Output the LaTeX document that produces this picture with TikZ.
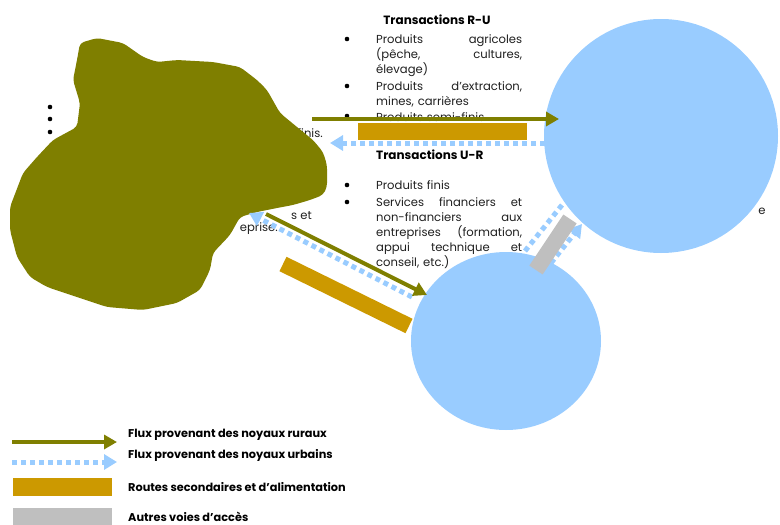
\documentclass[tikz,border=0pt]{standalone}
\usepackage{fontspec}
\setmainfont{Poppins}
\usetikzlibrary{arrows.meta,shapes.geometric}
\setlength{\parindent}{0pt}
\definecolor{colRural}{HTML}{7F7F00}
\definecolor{colUrbain}{HTML}{99CCFF}
\definecolor{colRoute}{HTML}{CC9900}
\definecolor{colVoie}{HTML}{BFBFBF}
\definecolor{colTexte}{HTML}{1F1F1F}
\newcommand{\ligne}[1]{\leavevmode\hbox to 146pt{\spaceskip=0.28em plus 1fil\relax #1}}
\tikzset{
  fluxrural/.style={draw=colRural,line width=4pt,-{Triangle[length=13pt,width=14pt]}},
  fluxurbain/.style={draw=colUrbain,line width=5pt,dash pattern=on 5pt off 4pt,-{Triangle[length=13pt,width=15pt]}},
  liste/.style={inner sep=0pt,anchor=north west,align=left,text width=150pt,text=colTexte,font=\fontsize{11.6}{15}\selectfont},
  cache/.style={inner sep=0pt,text=colTexte,font=\fontsize{11.6}{15}\selectfont},
  puce/.style={circle,fill=black,inner sep=0pt,minimum size=4.6pt},
  titre/.style={inner sep=0pt,font=\fontsize{12}{14}\selectfont\bfseries},
  legende/.style={inner sep=0pt,anchor=west,font=\fontsize{11.3}{13}\selectfont\bfseries}
}
\begin{document}
\begin{tikzpicture}[x=1pt,y=-1pt]
	\useasboundingbox (0,0) rectangle (780,525);
	% textes en partie caches
	\node[puce] (puce1) at (50,107) {};
	\node[puce] (puce2) at (50,119) {};
	\node[puce] (puce3) at (50,132) {};
	\node[cache,anchor=east] (finis) at (323,133) {finis.};
	\node[cache,anchor=east] (set) at (312,216) {s et};
	\node[cache,anchor=east] (eprise) at (278,229) {eprise.};
	\node[cache] (lettre) at (762,211) {e};
	% noyau rural
	\fill[colRural,rounded corners=4pt] (80,43)--(97,38)--(123,43)--(143,57)--(157,62)--(177,60)--(213,62)--(240,67)--(257,80)--(267,90)--(280,113)--(297,127)--(313,140)--(323,152)--(327,165)--(327,187)--(323,195)--(310,200)--(293,205)--(277,208)--(257,212)--(240,217)--(230,235)--(213,253)--(210,270)--(200,290)--(177,303)--(143,310)--(107,307)--(77,297)--(47,287)--(30,277)--(17,257)--(10,230)--(10,207)--(23,173)--(37,157)--(53,140)--(77,127)--(80,103)--(73,80)--(77,60)--cycle;
	% noyaux urbains
	\node[circle,fill=colUrbain,inner sep=0pt,minimum size=234pt] (grande-ville) at (661,136) {};
	\node[ellipse,fill=colUrbain,inner sep=0pt,minimum width=190pt,minimum height=178pt] (petite-ville) at (506,341) {};
	% textes des transactions
	\node[titre] (titre-ru) at (437,20) {Transactions R-U};
	\node[liste] (liste-ru) at (376,34) {\ligne{Produits agricoles}\\
		\ligne{(pêche, cultures,}\\
		élevage)\\[2pt]
		\ligne{Produits d’extraction,}\\
		mines, carrières\\[1pt]
		Produits semi-finis};
	\node[puce] (puce-ru1) at (347,39) {};
	\node[puce] (puce-ru2) at (347,86) {};
	\node[puce] (puce-ru3) at (347,116) {};
	\node[titre,anchor=west] (titre-ur) at (376,155) {Transactions U-R};
	\node[liste] (liste-ur) at (376,180) {Produits finis\\[2pt]
		\ligne{Services financiers et}\\
		\ligne{non-financiers aux}\\
		\ligne{entreprises (formation,}\\
		\ligne{appui technique et}\\
		conseil, etc.)};
	\node[puce] (puce-ur1) at (347,185) {};
	\node[puce] (puce-ur2) at (347,202) {};
	% routes et voies
	\fill[colRoute] (358,123) rectangle (527,140);
	\draw[colRoute,line width=16pt] (283,264) -- (409,326);
	\coordinate (uu-a) at (525,251);
	\coordinate (uu-b) at (562,205);
	\coordinate (uu-c) at (551,263);
	\coordinate (uu-d) at (582,224);
	\draw[fluxurbain,-] (uu-a) -- (uu-b);
	\draw[fluxurbain] (uu-c) -- (uu-d);
	\draw[colVoie,line width=16pt] (570,219) -- (536,270);
	% flux
	\coordinate (ru-a) at (312,119);
	\coordinate (ru-b) at (559,119);
	\coordinate (ur-a) at (545,143);
	\coordinate (ur-b) at (330,143);
	\coordinate (diag-a) at (266,214);
	\coordinate (diag-b) at (427,295);
	\coordinate (diag-c) at (412,297);
	\coordinate (diag-d) at (249,213);
	\draw[fluxrural] (ru-a) -- (ru-b);
	\draw[fluxurbain] (ur-a) -- (ur-b);
	\draw[fluxurbain] (diag-c) -- (diag-d);
	\draw[fluxrural] (diag-a) -- (diag-b);
	% legende
	\coordinate (leg1-a) at (12,442);
	\coordinate (leg1-b) at (117,442);
	\coordinate (leg2-a) at (12,462);
	\coordinate (leg2-b) at (117,462);
	\draw[fluxrural] (leg1-a) -- (leg1-b);
	\draw[fluxurbain] (leg2-a) -- (leg2-b);
	\fill[colRoute] (13,478) rectangle (112,496);
	\fill[colVoie] (13,508) rectangle (112,525);
	\node[legende] (leg-rural) at (128,435) {Flux provenant des noyaux ruraux};
	\node[legende] (leg-urbain) at (128,455) {Flux provenant des noyaux urbains};
	\node[legende] (leg-route) at (128,487) {Routes secondaires et d’alimentation};
	\node[legende] (leg-voie) at (128,517) {Autres voies d’accès};
\end{tikzpicture}
\end{document}
